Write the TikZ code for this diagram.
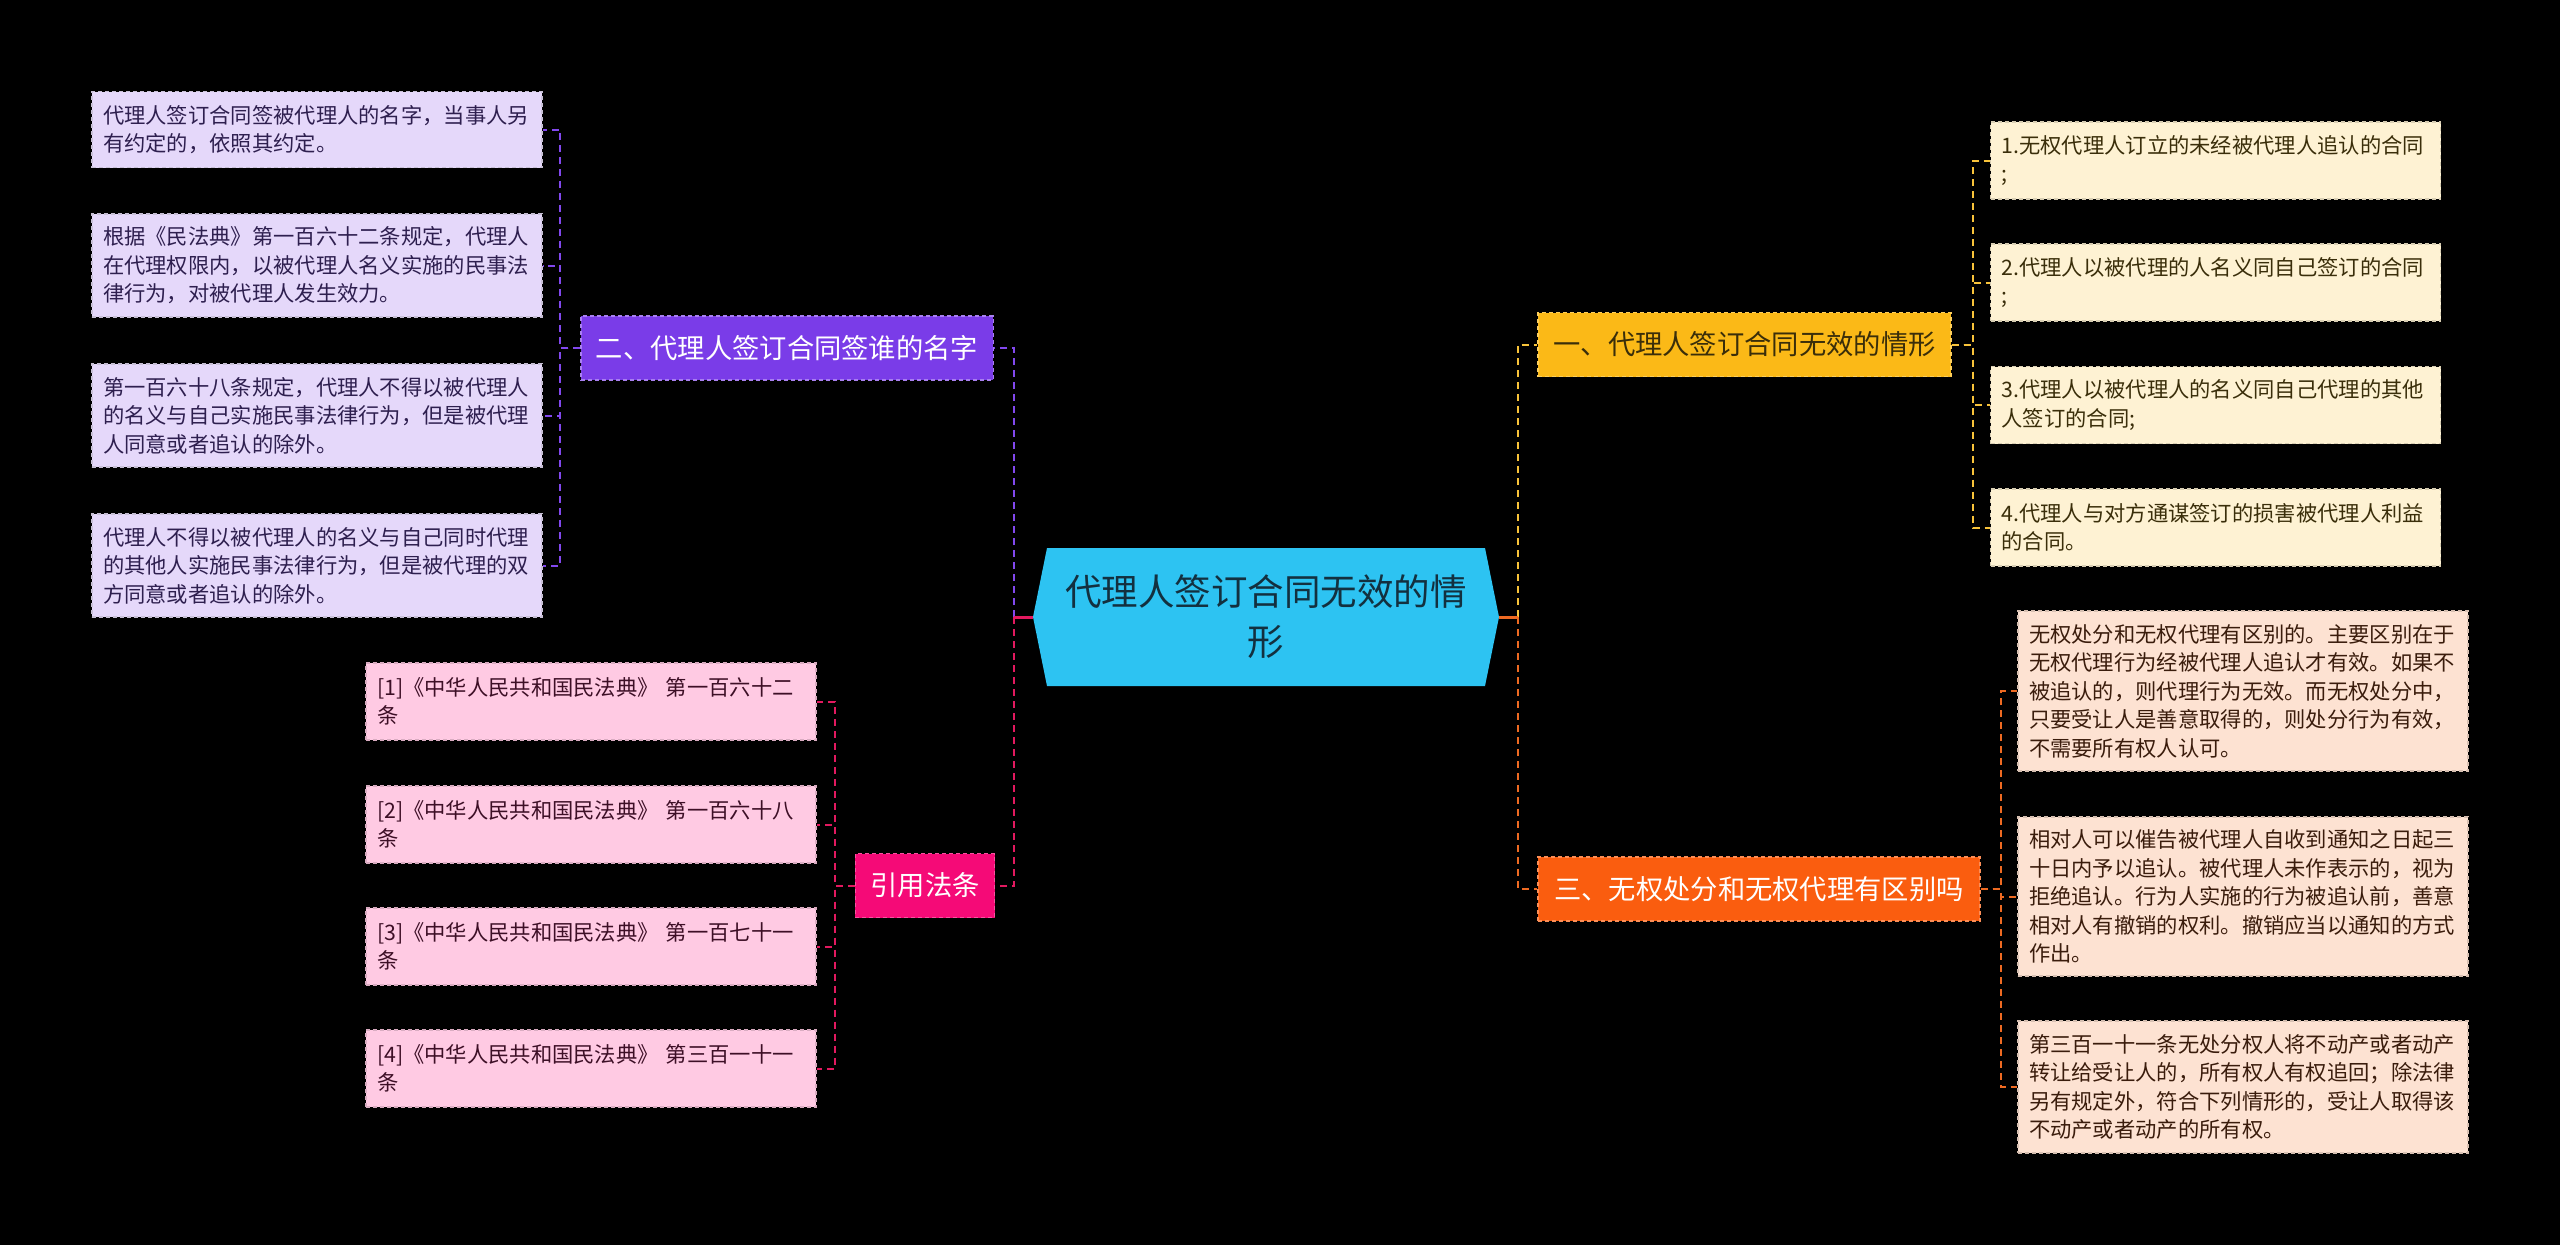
\documentclass[tikz,border=0pt]{standalone}
\usepackage{fontspec}
\setmainfont{Noto Sans CJK SC}
\usetikzlibrary{backgrounds}
\definecolor{centerfill}{HTML}{2DC3F2}
\definecolor{centertext}{HTML}{13303F}
\definecolor{bpurple}{HTML}{7A3CE8}
\definecolor{bpink}{HTML}{F50A77}
\definecolor{byellow}{HTML}{FBB917}
\definecolor{borange}{HTML}{FA5D0F}
\definecolor{lpurple}{HTML}{E5D8FA}
\definecolor{lpink}{HTML}{FFCAE3}
\definecolor{lyellow}{HTML}{FEF2D3}
\definecolor{lorange}{HTML}{FDE2D2}
\definecolor{tpurple}{HTML}{2E1F4F}
\definecolor{tpink}{HTML}{3D0F26}
\definecolor{tyellow}{HTML}{3A2E0A}
\definecolor{torange}{HTML}{3A1C0C}
\definecolor{cpurple}{HTML}{8248EE}
\definecolor{cpink}{HTML}{E2195F}
\definecolor{cyellow}{HTML}{F8C33A}
\definecolor{corange}{HTML}{EE6A22}
\begin{document}
\begin{tikzpicture}[x=1pt,y=-1pt,
  leafbase/.style={rectangle, line width=1.2pt, dash pattern=on 4pt off 3pt,
    text width=428pt, align=left, inner xsep=11pt, inner ysep=0pt,
    font=\fontsize{21.3}{28.5}\selectfont},
  pleaf/.style={leafbase, fill=lpurple, draw=lpurple!75!white!85!black, text=tpurple},
  kleaf/.style={leafbase, fill=lpink, draw=lpink!85!black, text=tpink},
  yleaf/.style={leafbase, fill=lyellow, draw=lyellow!85!black, text=tyellow},
  oleaf/.style={leafbase, fill=lorange, draw=lorange!85!black, text=torange},
  branchbase/.style={rectangle, line width=1.2pt, dash pattern=on 4pt off 3pt,
    minimum height=64pt, inner xsep=15pt, inner ysep=0pt,
    font=\fontsize{27.3}{34}\selectfont},
  conn/.style={draw=#1, line width=2pt, dash pattern=on 7pt off 5pt},
  stub/.style={draw=#1, line width=3pt}
]
\useasboundingbox (0,0) rectangle (2560,1245);

% center node
\node[rectangle, minimum width=466pt, minimum height=138pt, inner sep=0pt,
  align=center, text=centertext, font=\fontsize{36.5}{50}\selectfont]
  (c) at (1266,617) {代理人签订合同无效的情\\形};
\begin{scope}[on background layer]
  \fill[black] (0,0) rectangle (2560,1245);
  \fill[centerfill] (1033,617) -- (1047,548) -- (1485,548) -- (1499,617)
    -- (1485,686) -- (1047,686) -- cycle;
\end{scope}

% branch nodes
\node[branchbase, minimum width=413pt, fill=byellow, draw=byellow!70!white, text=tyellow]
  (b1) at (1744.5,344.5) {一、代理人签订合同无效的情形};
\node[branchbase, minimum width=412pt, fill=bpurple, draw=bpurple!65!white, text=white]
  (b2) at (787,348) {二、代理人签订合同签谁的名字};
\node[branchbase, minimum width=442pt, fill=borange, draw=borange!70!white, text=white]
  (b3) at (1759,889) {三、无权处分和无权代理有区别吗};
\node[branchbase, minimum width=138pt, fill=bpink, draw=bpink!70!white, text=white]
  (b4) at (925,885.5) {引用法条};

% purple leaves
\node[pleaf, minimum height=76pt] (p1) at (317,129.5)
  {代理人签订合同签被代理人的名字，当事人另\\有约定的，依照其约定。};
\node[pleaf, minimum height=103pt] (p2) at (317,265.5)
  {根据《民法典》第一百六十二条规定，代理人\\在代理权限内，以被代理人名义实施的民事法\\律行为，对被代理人发生效力。};
\node[pleaf, minimum height=103pt] (p3) at (317,415.5)
  {第一百六十八条规定，代理人不得以被代理人\\的名义与自己实施民事法律行为，但是被代理\\人同意或者追认的除外。};
\node[pleaf, minimum height=103pt] (p4) at (317,565.5)
  {代理人不得以被代理人的名义与自己同时代理\\的其他人实施民事法律行为，但是被代理的双\\方同意或者追认的除外。};

% pink leaves
\node[kleaf, minimum height=77pt] (k1) at (591,701.5)
  {[1]《中华人民共和国民法典》 第一百六十二\\条};
\node[kleaf, minimum height=77pt] (k2) at (591,824.5)
  {[2]《中华人民共和国民法典》 第一百六十八\\条};
\node[kleaf, minimum height=77pt] (k3) at (591,946.5)
  {[3]《中华人民共和国民法典》 第一百七十一\\条};
\node[kleaf, minimum height=77pt] (k4) at (591,1068.5)
  {[4]《中华人民共和国民法典》 第三百一十一\\条};

% yellow leaves
\node[yleaf, minimum height=77pt] (y1) at (2215.5,160.5)
  {1.无权代理人订立的未经被代理人追认的合同\\;};
\node[yleaf, minimum height=77pt] (y2) at (2215.5,282.5)
  {2.代理人以被代理的人名义同自己签订的合同\\;};
\node[yleaf, minimum height=77pt] (y3) at (2215.5,405)
  {3.代理人以被代理人的名义同自己代理的其他\\人签订的合同;};
\node[yleaf, minimum height=77pt] (y4) at (2215.5,527.5)
  {4.代理人与对方通谋签订的损害被代理人利益\\的合同。};

% orange leaves
\node[oleaf, minimum height=160pt] (o1) at (2243,691)
  {无权处分和无权代理有区别的。主要区别在于\\无权代理行为经被代理人追认才有效。如果不\\被追认的，则代理行为无效。而无权处分中，\\只要受让人是善意取得的，则处分行为有效，\\不需要所有权人认可。};
\node[oleaf, minimum height=159pt] (o2) at (2243,896.5)
  {相对人可以催告被代理人自收到通知之日起三\\十日内予以追认。被代理人未作表示的，视为\\拒绝追认。行为人实施的行为被追认前，善意\\相对人有撤销的权利。撤销应当以通知的方式\\作出。};
\node[oleaf, minimum height=132pt] (o3) at (2243,1087)
  {第三百一十一条无处分权人将不动产或者动产\\转让给受让人的，所有权人有权追回；除法律\\另有规定外，符合下列情形的，受让人取得该\\不动产或者动产的所有权。};

% trunks
\coordinate (tl) at (1014,617);
\coordinate (tr) at (1518,617);
\draw[conn=cpurple] (tl) |- (b2.east);
\draw[conn=cpink] (tl) |- (b4.east);
\draw[conn=cyellow] (tr) |- (b1.west);
\draw[conn=corange] (tr) |- (b3.west);
\draw[stub=cpink] (c.west) -- (tl);
\draw[stub=corange] (c.east) -- (tr);

% leaf connectors
\foreach \n in {p1,p2,p3,p4}
  \draw[conn=cpurple] (b2.west) -- ++(-20,0) |- (\n.east);
\foreach \n in {k1,k2,k3,k4}
  \draw[conn=cpink] (b4.west) -- ++(-20,0) |- (\n.east);
\foreach \n in {y1,y2,y3,y4}
  \draw[conn=cyellow] (b1.east) -- ++(21,0) |- (\n.west);
\foreach \n in {o1,o2,o3}
  \draw[conn=corange] (b3.east) -- ++(20,0) |- (\n.west);
\end{tikzpicture}
\end{document}
